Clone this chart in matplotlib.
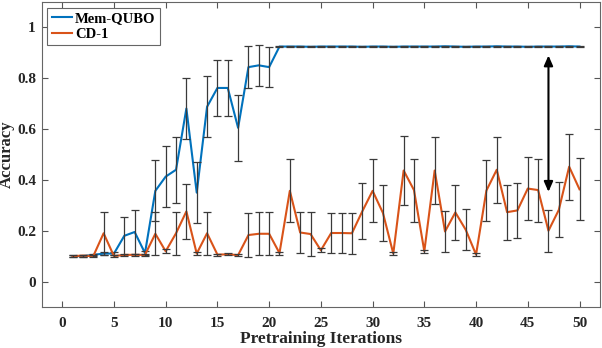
import matplotlib
matplotlib.use("Agg")
import matplotlib.pyplot as plt
import numpy as np

iterations = list(range(1, 51))

mem_qubo = [0.100, 0.100, 0.105, 0.110, 0.110, 0.180, 0.195, 0.112, 0.357, 0.413,
            0.440, 0.681, 0.350, 0.688, 0.762, 0.762, 0.605, 0.844, 0.851, 0.844,
            0.925, 0.925, 0.925, 0.924, 0.925, 0.925, 0.925, 0.925, 0.924, 0.925,
            0.925, 0.924, 0.925, 0.925, 0.925, 0.925, 0.926, 0.925, 0.924, 0.925,
            0.925, 0.926, 0.925, 0.925, 0.924, 0.925, 0.925, 0.925, 0.926, 0.925]
mem_qubo_err = [0.004, 0.004, 0.005, 0.006, 0.006, 0.075, 0.085, 0.008, 0.120, 0.120,
                0.130, 0.120, 0.120, 0.120, 0.110, 0.110, 0.130, 0.083, 0.080, 0.080,
                0.002, 0.002, 0.002, 0.002, 0.002, 0.002, 0.002, 0.002, 0.002, 0.002,
                0.002, 0.002, 0.002, 0.002, 0.002, 0.002, 0.002, 0.002, 0.002, 0.002,
                0.002, 0.002, 0.002, 0.002, 0.002, 0.002, 0.002, 0.002, 0.002, 0.002]

cd1 = [0.100, 0.102, 0.100, 0.190, 0.100, 0.105, 0.105, 0.105, 0.188, 0.119,
       0.190, 0.276, 0.110, 0.190, 0.106, 0.107, 0.104, 0.183, 0.188, 0.188,
       0.112, 0.357, 0.193, 0.187, 0.123, 0.191, 0.191, 0.190, 0.276, 0.357,
       0.270, 0.110, 0.437, 0.360, 0.119, 0.437, 0.197, 0.272, 0.204, 0.106,
       0.358, 0.440, 0.273, 0.280, 0.366, 0.360, 0.200, 0.282, 0.452, 0.363]
cd1_err = [0.004, 0.004, 0.004, 0.085, 0.004, 0.005, 0.005, 0.005, 0.085, 0.008,
           0.085, 0.108, 0.006, 0.085, 0.004, 0.004, 0.004, 0.085, 0.085, 0.085,
           0.006, 0.124, 0.080, 0.085, 0.008, 0.080, 0.080, 0.080, 0.110, 0.124,
           0.110, 0.005, 0.135, 0.124, 0.006, 0.132, 0.082, 0.108, 0.080, 0.005,
           0.120, 0.130, 0.108, 0.108, 0.123, 0.124, 0.082, 0.108, 0.130, 0.122]

x_ticks = [0, 5, 10, 15, 20, 25, 30, 35, 40, 45, 50]
y_ticks = [0, 0.2, 0.4, 0.6, 0.8, 1.0]
y_tick_labels = ["0", "0.2", "0.4", "0.6", "0.8", "1"]

serif = ["Liberation Serif", "DejaVu Serif"]
plt.rcParams["font.family"] = serif
plt.rcParams["font.weight"] = "bold"

fig = plt.figure(figsize=(6.02, 3.48), dpi=100)
ax = fig.add_axes([0.069, 0.118, 0.928, 0.876])

blue = "#0072BD"
orange = "#D95319"
ebc = "#3a3a3a"

ax.plot(iterations, mem_qubo, color=blue, lw=1.5, label="Mem-QUBO", zorder=2)
ax.errorbar(iterations, mem_qubo, yerr=mem_qubo_err, fmt="none", ecolor=ebc,
            elinewidth=0.9, capsize=3, capthick=0.9, zorder=3)
ax.plot(iterations, cd1, color=orange, lw=1.5, label="CD-1", zorder=4)
ax.errorbar(iterations, cd1, yerr=cd1_err, fmt="none", ecolor=ebc,
            elinewidth=0.9, capsize=3, capthick=0.9, zorder=5)

ax.annotate("", xy=(47, 0.89), xytext=(47, 0.353),
            arrowprops=dict(arrowstyle="<|-|>,head_length=0.5,head_width=0.22",
                            color="black", lw=1.5,
                            mutation_scale=12, shrinkA=0, shrinkB=0))

ax.set_xlim(-2, 52)
ax.set_ylim(-0.1, 1.1)
ax.set_xticks(x_ticks)
ax.set_yticks(y_ticks)
ax.set_yticklabels(y_tick_labels)
ax.tick_params(direction="in", length=4, width=0.8, colors="#555555",
               labelcolor="#262626", labelsize=11, top=True, right=True)
ax.tick_params(axis="x", pad=7)
ax.tick_params(axis="y", pad=4)
for lab in ax.get_xticklabels() + ax.get_yticklabels():
    lab.set_fontweight("bold")
for sp in ax.spines.values():
    sp.set_color("#666666")
    sp.set_linewidth(0.8)

ax.set_xlabel("Pretraining Iterations", fontsize=12.5, fontweight="bold",
              color="#262626", labelpad=1)
ax.set_ylabel("Accuracy", fontsize=12, fontweight="bold", color="#262626")
ax.yaxis.set_label_coords(-0.048, 0.5)

leg = ax.legend(loc="upper left", frameon=True, fancybox=False,
                handlelength=1.4, handletextpad=0.2, borderpad=0.3,
                labelspacing=0.15, borderaxespad=0.4,
                prop={"family": serif, "weight": "bold", "size": 10.5})
leg.get_frame().set_edgecolor("#666666")
leg.get_frame().set_linewidth(0.8)
leg.get_frame().set_alpha(1)

fig.savefig("out.png", dpi=100)
